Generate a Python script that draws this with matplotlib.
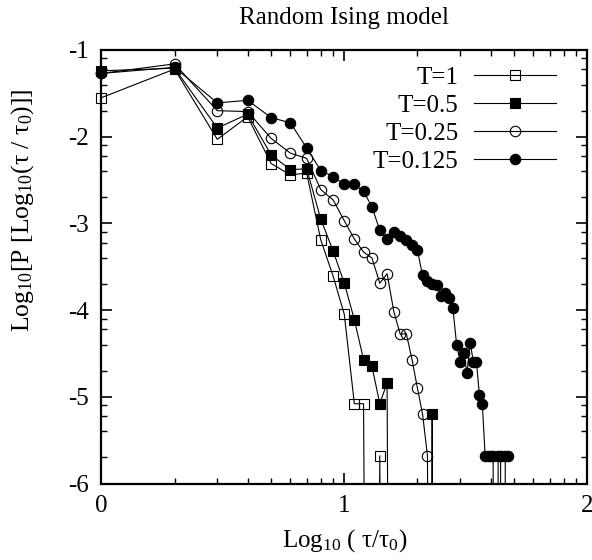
import numpy as np
import matplotlib
matplotlib.use('Agg')
import matplotlib.pyplot as plt
from matplotlib.lines import Line2D

plt.rcParams['font.family'] = ['Liberation Serif', 'DejaVu Serif']
plt.rcParams['mathtext.fontset'] = 'custom'
plt.rcParams['mathtext.rm'] = 'Liberation Serif'
plt.rcParams['mathtext.it'] = 'Liberation Serif:italic'
plt.rcParams['axes.unicode_minus'] = False

# log10 P per bin n = 1, 2, 3 ... (x = log10 n); None = empty bin
labels = ['T=1', 'T=0.5', 'T=0.25', 'T=0.125']
logp_T1 = [-1.55, -1.22, -2.03, -1.77, -2.31, -2.44, -2.42, -3.19, -3.61, -4.05,
           -5.08, -5.08, None, -5.68, None]
logp_T05 = [-1.24, -1.21, -1.90, -1.74, -2.21, -2.38, -2.37, -2.95, -3.32, -3.69,
            -4.11, -4.57, -4.65, -5.08, -4.84, None, None, None, None, None,
            None, None, -5.20, None]
logp_T025 = [-1.27, -1.16, -1.70, -1.71, -2.02, -2.19, -2.25, -2.61, -2.73, -2.97,
             -3.18, -3.33, -3.40, -3.69, -3.58, -4.02, -4.28, -4.27, -4.57, -4.90,
             -5.20, -5.68, None]
logp_T0125 = [-1.27, -1.20, -1.61, -1.58, -1.78, -1.84, -2.13, -2.39, -2.46, -2.55,
              -2.55, -2.63, -2.81, -3.08, -3.18, -3.10, -3.15, -3.19, -3.25, -3.31,
              -3.60, -3.66, -3.70, -3.71, -3.84, -3.80, -3.86, -3.98, -4.40, -4.60,
              -4.50, -4.72, -4.38, -4.60, -4.60, -4.98, -5.08, -5.68, -5.68, -5.68,
              -5.68, None, -5.68, -5.68, None, -5.68, -5.68]
series = [logp_T1, logp_T05, logp_T025, logp_T0125]
markers = [('s', 'none'), ('s', 'k'), ('o', 'none'), ('o', 'k')]

FLOOR = -20.0  # empty bins drop off the bottom of the plot

fig = plt.figure(figsize=(5.92, 5.6), dpi=100)
ax = fig.add_axes([101.4 / 592, 1 - 483.5 / 560, 485.8 / 592, 433.5 / 560])

handles = []
for vals, (mk, fc) in zip(series, markers):
    x = np.log10(np.arange(1, len(vals) + 1))
    y = np.array([FLOOR if v is None else v for v in vals])
    ok = y > FLOOR
    ax.plot(x, y, color='k', lw=0.8, zorder=2)
    ax.plot(x[ok], y[ok], ls='none', marker=mk, ms=7.5, mfc=fc, mec='k',
            mew=0.8, clip_on=False, zorder=3)
    handles.append(Line2D([], [], color='k', lw=0.8, marker=mk, ms=7.5,
                          mfc=fc, mec='k', mew=0.8))

ax.set_xlim(0, 2)
ax.set_ylim(-6, -1)
ax.set_xticks([0, 1, 2])
ax.set_yticks([-6, -5, -4, -3, -2, -1])
ax.set_xticks([d + np.log10(k) for d in (0, 1) for k in range(2, 10)], minor=True)
ax.set_yticks([d + np.log10(m) for d in range(-6, -1) for m in (2, 4, 6, 8)], minor=True)
ax.tick_params(which='both', direction='in', top=True, right=True, labelsize=18)
ax.tick_params(which='major', length=8, width=1.2)
ax.tick_params(which='minor', length=4, width=1.0)
ax.tick_params(axis='x', pad=8)
ax.tick_params(axis='y', pad=9)
for s in ax.spines.values():
    s.set_linewidth(1.6)

ax.set_title('Random Ising model', fontsize=18, pad=19)
ax.set_xlabel('Log$_{10}$ ( τ/τ$_0$)', fontsize=18)
ax.xaxis.set_label_coords(0.5, -0.10)
ax.set_ylabel('Log$_{10}$[P [Log$_{10}$(τ / τ$_0$)]]', fontsize=18.5)
ax.yaxis.set_label_coords(-0.135, 0.63)

ax.legend(handles, labels, loc='upper right', bbox_to_anchor=(0.936, 0.962),
          frameon=False, markerfirst=False, handlelength=3.3, handletextpad=0.6,
          labelspacing=0.22, borderpad=0, borderaxespad=0, fontsize=18)

fig.savefig('out.png', dpi=100)
